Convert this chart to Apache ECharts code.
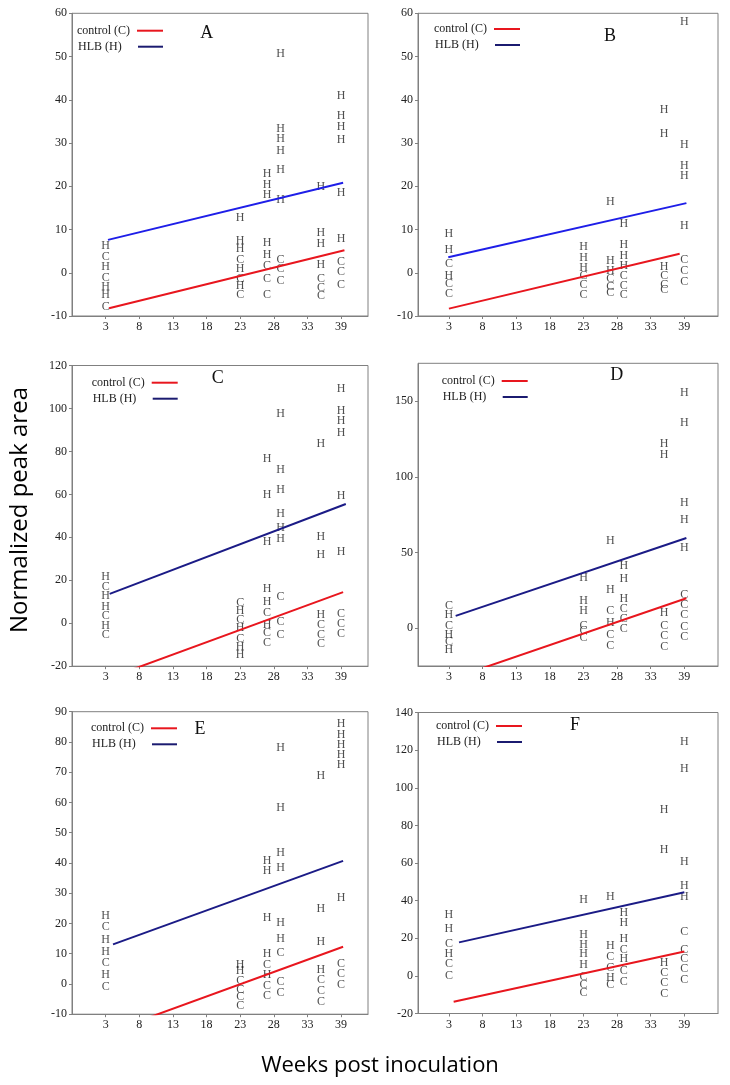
<!DOCTYPE html>
<html><head><meta charset="utf-8">
<script src="https://cdn.jsdelivr.net/npm/echarts@6/dist/echarts.min.js"></script>
<style>html,body{margin:0;padding:0;background:#fff}#c{width:730px;height:1085px}</style>
</head><body><div id="c"></div>
<script>
// Sampling weeks (positions on the week axis)
const weeks = [3, 23, 27, 29, 35, 38];
const xTickValues = [3, 8, 13, 18, 23, 28, 33, 38];
const xTickLabels = ['3', '8', '13', '18', '23', '28', '33', '39'];

// Panel A
const A_H = [[6.2, 1.3, -3.2, -5.2], [12.8, 7.4, 5.6, 0.9, -3.1], [22.8, 20.3, 18.0, 6.9, 4.2], [50.6, 33.3, 31.0, 28.3, 23.8, 16.8], [19.9, 9.3, 6.7, 1.8], [40.9, 36.2, 33.8, 30.8, 18.5, 7.9]];
const A_C = [[3.7, -1.2, -7.9], [3.1, -1.3, -5.2], [1.6, -1.4, -5.0], [3.1, 0.8, -1.9], [-1.3, -3.4, -5.4], [2.5, 0.1, -2.7]];
const A_fitH = [[3.35, 7.6], [38.3, 20.8]];
const A_fitC = [[3.5, -8.2], [38.5, 5.2]];
const A_yTicks = [-10, 0, 10, 20, 30, 40, 50, 60];

// Panel B
const B_H = [[9.1, 5.4, -0.6], [6.0, 3.5, 1.2], [16.4, 2.7, 0.5], [11.2, 6.4, 4.0, 1.5], [37.7, 32.2, 1.4], [58.1, 29.6, 24.8, 22.3, 10.9]];
const B_C = [[2.1, -2.5, -4.8], [-0.8, -2.9, -5.2], [-1.4, -3.2, -4.6], [-0.8, -3.1, -5.2], [-0.6, -2.8, -3.9], [2.9, 0.4, -2.2]];
const B_fitH = [[2.9, 3.6], [38.3, 16.1]];
const B_fitC = [[3.0, -8.3], [37.3, 4.4]];
const B_yTicks = [-10, 0, 10, 20, 30, 40, 50, 60];

// Panel C
const C_H = [[21.5, 12.8, 7.8, -1.2], [5.9, -2.3, -10.9, -14.7], [76.5, 59.9, 37.9, 15.9, 10.1, -0.8], [97.7, 71.5, 61.9, 51.0, 44.2, 39.3], [83.7, 40.1, 31.9, 3.9], [109.3, 99.1, 94.4, 88.6, 59.4, 33.3]];
const C_C = [[17.1, 3.6, -5.6], [9.3, 1.7, -7.1], [4.7, -4.7, -9.3], [12.1, 0.8, -5.4], [-0.8, -5.4, -9.8], [4.4, -0.5, -5.1]];
const C_fitH = [[3.6, 13.7], [38.7, 55.5]];
const C_fitC = [[3.4, -25.6], [38.3, 14.5]];
const C_yTicks = [-20, 0, 20, 40, 60, 80, 100, 120];

// Panel D
const D_H = [[8.5, -4.2, -14.1], [33.2, 18.0, 11.2], [57.6, 25.3, 3.6], [41.2, 32.4, 19.1], [121.6, 114.4, 9.9], [155.7, 135.7, 83.1, 71.5, 53.0]];
const D_C = [[15.0, 1.5, -9.3], [1.8, -1.9, -6.6], [11.5, -4.3, -11.5], [12.6, 6.0, -0.7], [1.8, -5.1, -12.1], [22.0, 15.4, 8.6, 1.1, -5.5]];
const D_fitH = [[4.0, 8.1], [38.3, 59.6]];
const D_fitC = [[4.0, -32.5], [38.3, 19.8]];
const D_yTicks = [0, 50, 100, 150];

// Panel E
const E_H = [[22.5, 14.5, 10.7, 2.9], [6.3, 4.3], [40.7, 37.3, 21.9, 10.0, 3.0], [77.9, 58.3, 43.4, 38.5, 20.2, 14.8], [68.7, 24.7, 14.0, 4.6], [86.1, 82.3, 79.0, 75.7, 72.4, 28.3]];
const E_C = [[18.8, 7.1, -0.9], [1.0, -1.8, -4.2, -7.2], [6.3, -0.7, -4.0], [10.3, 0.7, -3.1], [1.3, -2.2, -5.8], [6.6, 3.2, -0.3]];
const E_fitH = [[4.1, 13.1], [38.3, 40.7]];
const E_fitC = [[3.6, -15.8], [38.3, 12.3]];
const E_yTicks = [-10, 0, 10, 20, 30, 40, 50, 60, 70, 80, 90];

// Panel F
const F_H = [[32.5, 25.1, 11.7], [40.3, 21.6, 16.7, 11.7, 5.8], [42.0, 16.1, -0.8], [33.5, 28.0, 19.6, 9.2], [88.1, 66.8, 7.0], [124.5, 109.8, 60.4, 47.6, 42.2]];
const F_C = [[17.1, 6.2, 0.0], [-0.5, -4.9, -9.0], [10.0, 4.4, -4.8], [14.0, 2.5, -3.0], [1.5, -3.7, -9.4], [23.6, 14.0, 8.8, 3.7, -1.9]];
const F_fitH = [[4.5, 17.8], [38.0, 44.4]];
const F_fitC = [[3.7, -13.7], [38.0, 13.0]];
const F_yTicks = [-20, 0, 20, 40, 60, 80, 100, 120, 140];

const legendNames = ['control (C)', 'HLB (H)'];
const panelLetters = ['A', 'B', 'C', 'D', 'E', 'F'];
const yTitle = 'Normalized peak area';
const xTitle = 'Weeks post inoculation';

// ---------- layout / style ----------
const SERIF = '"Liberation Serif", "Times New Roman", serif';
const SANS = '"Open Sans", "Liberation Sans", sans-serif';
const FRAME = '#808080';
const TXT = '#222';
const RED = '#e8161e';
const NAVY = '#1b1b86';
const BRIGHT = '#1e1ee8';

const panels = [
  {H: A_H, C: A_C, fH: A_fitH, fC: A_fitC, yMin: -10, yMax: 60, yT: A_yTicks, blue: BRIGHT,
   grid: {left: 72, top: 13.3, width: 296, height: 302.7}, xMin: -2, xMax: 42, letter: [206.7, 33.3], leg: [77, 30.7]},
  {H: B_H, C: B_C, fH: B_fitH, fC: B_fitC, yMin: -10, yMax: 60, yT: B_yTicks, blue: BRIGHT,
   grid: {left: 418, top: 13.3, width: 300, height: 302.7}, xMin: -1.6, xMax: 43, letter: [610, 36], leg: [434, 29]},
  {H: C_H, C: C_C, fH: C_fitH, fC: C_fitC, yMin: -20, yMax: 120, yT: C_yTicks, blue: NAVY,
   grid: {left: 72, top: 365.5, width: 296, height: 300.7}, xMin: -2, xMax: 42, letter: [217.7, 378.3], leg: [91.7, 382.7]},
  {H: D_H, C: D_C, fH: D_fitH, fC: D_fitC, yMin: -25, yMax: 175, yT: D_yTicks, blue: NAVY,
   grid: {left: 418, top: 363.3, width: 300, height: 302.7}, xMin: -1.6, xMax: 43, letter: [616.7, 375], leg: [441.7, 381]},
  {H: E_H, C: E_C, fH: E_fitH, fC: E_fitC, yMin: -10, yMax: 90, yT: E_yTicks, blue: NAVY,
   grid: {left: 72, top: 711.7, width: 296, height: 302.5}, xMin: -2, xMax: 42, letter: [200, 729.3], leg: [91, 728.3]},
  {H: F_H, C: F_C, fH: F_fitH, fC: F_fitC, yMin: -20, yMax: 140, yT: F_yTicks, blue: NAVY,
   grid: {left: 418, top: 712.5, width: 300, height: 301}, xMin: -1.6, xMax: 43, letter: [575, 725], leg: [436, 726]}
];

function flatten(cols) {
  const out = [];
  cols.forEach((col, i) => col.forEach(v => out.push([weeks[i], v])));
  return out;
}

const grids = [], xAxes = [], yAxes = [], series = [], graphics = [];
panels.forEach((p, i) => {
  grids.push(Object.assign({show: true, borderColor: FRAME, borderWidth: 1, backgroundColor: 'transparent'}, p.grid));
  xAxes.push({
    type: 'value', gridIndex: i, min: p.xMin, max: p.xMax,
    axisLine: {show: true, onZero: false, lineStyle: {color: FRAME, width: 1}},
    axisTick: {show: true, length: 3, customValues: xTickValues, lineStyle: {color: FRAME}},
    axisLabel: {show: true, customValues: xTickValues, margin: 5, fontFamily: SERIF, fontSize: 12, color: TXT,
      formatter: v => xTickLabels[xTickValues.indexOf(Math.round(v))] || ''},
    splitLine: {show: false}
  });
  yAxes.push({
    type: 'value', gridIndex: i, min: p.yMin, max: p.yMax,
    axisLine: {show: true, onZero: false, lineStyle: {color: FRAME, width: 1}},
    axisTick: {show: true, length: 3, customValues: p.yT, lineStyle: {color: FRAME}},
    axisLabel: {show: true, customValues: p.yT, margin: 5, fontFamily: SERIF, fontSize: 12, color: TXT},
    splitLine: {show: false}
  });
  const letterSeries = (cols, ch) => ({
    type: 'scatter', xAxisIndex: i, yAxisIndex: i, data: flatten(cols), symbolSize: 1, z: 2,
    itemStyle: {color: 'rgba(0,0,0,0)'}, silent: true,
    label: {show: true, position: 'inside', formatter: ch, fontFamily: SERIF, fontSize: 12, color: TXT}
  });
  series.push(letterSeries(p.H, 'H'));
  series.push(letterSeries(p.C, 'C'));
  series.push({type: 'line', xAxisIndex: i, yAxisIndex: i, data: p.fC, symbol: 'none', clip: true, z: 3,
    lineStyle: {color: RED, width: 2}, silent: true});
  series.push({type: 'line', xAxisIndex: i, yAxisIndex: i, data: p.fH, symbol: 'none', clip: true, z: 3,
    lineStyle: {color: p.blue, width: 2}, silent: true});

  // panel letter
  graphics.push({type: 'text', x: p.letter[0], y: p.letter[1],
    style: {text: panelLetters[i], font: '18px ' + SERIF, fill: '#111', align: 'center', verticalAlign: 'middle'}});
  // legend
  const [lx, ly] = p.leg;
  graphics.push({type: 'text', x: lx, y: ly, style: {text: legendNames[0], font: '12px ' + SERIF, fill: TXT, verticalAlign: 'middle'}});
  graphics.push({type: 'line', shape: {x1: lx + 60, y1: ly, x2: lx + 86, y2: ly}, style: {stroke: RED, lineWidth: 2}});
  graphics.push({type: 'text', x: lx + 1, y: ly + 16, style: {text: legendNames[1], font: '12px ' + SERIF, fill: TXT, verticalAlign: 'middle'}});
  graphics.push({type: 'line', shape: {x1: lx + 61, y1: ly + 16, x2: lx + 86, y2: ly + 16}, style: {stroke: '#1b1b70', lineWidth: 2}});
});

graphics.push({type: 'text', x: 20, y: 510, rotation: Math.PI / 2,
  style: {text: yTitle, font: '24px ' + SANS, fill: '#000', align: 'center', verticalAlign: 'middle'}});
graphics.push({type: 'text', x: 380, y: 1066,
  style: {text: xTitle, font: '22px ' + SANS, fill: '#000', align: 'center', verticalAlign: 'middle'}});

const chart = echarts.init(document.getElementById('c'));
chart.setOption({
  animation: false,
  backgroundColor: '#fff',
  grid: grids, xAxis: xAxes, yAxis: yAxes, series: series,
  graphic: graphics
});
</script></body></html>
